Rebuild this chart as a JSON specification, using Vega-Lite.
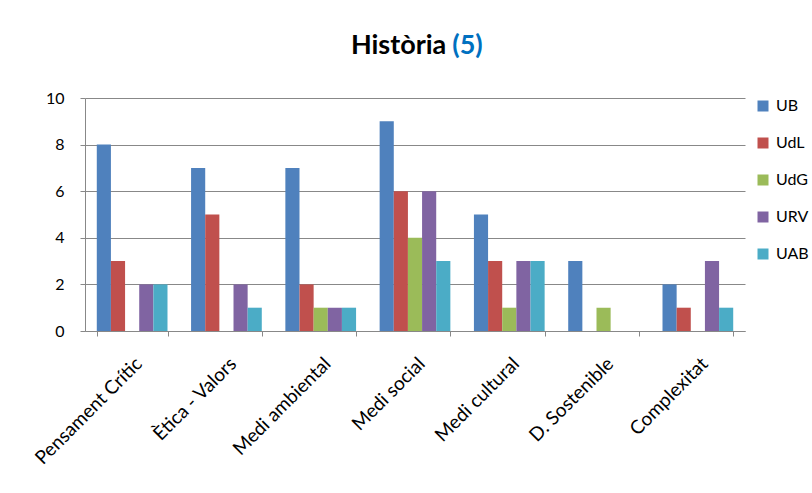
{
  "$schema": "https://vega.github.io/schema/vega-lite/v6.json",
  "width": 660,
  "height": 233,
  "autosize": {"type": "none"},
  "padding": {"left": 85, "top": 98, "right": 67, "bottom": 162},
  "background": "white",
  "title": {
    "text": "Història\u00a0\u00a0\u00a0\u00a0\u00a0\u200b",
    "subtitle": "\u200b\u00a0\u00a0\u00a0\u00a0\u00a0\u00a0\u00a0\u00a0\u00a0\u00a0\u00a0\u00a0\u00a0\u00a0\u00a0\u00a0(5)",
    "anchor": "middle",
    "frame": "group",
    "font": "Lato",
    "fontSize": 27,
    "fontWeight": "bold",
    "color": "black",
    "subtitleFont": "Lato",
    "subtitleFontSize": 27,
    "subtitleFontWeight": "bold",
    "subtitleColor": "#0070C0",
    "subtitlePadding": -27,
    "offset": 30
  },
  "data": {
    "values": [
      {"cat": "Pensament Crític", "uni": "UB", "v": 8},
      {"cat": "Pensament Crític", "uni": "UdL", "v": 3},
      {"cat": "Pensament Crític", "uni": "UdG", "v": 0},
      {"cat": "Pensament Crític", "uni": "URV", "v": 2},
      {"cat": "Pensament Crític", "uni": "UAB", "v": 2},
      {"cat": "Ètica - Valors", "uni": "UB", "v": 7},
      {"cat": "Ètica - Valors", "uni": "UdL", "v": 5},
      {"cat": "Ètica - Valors", "uni": "UdG", "v": 0},
      {"cat": "Ètica - Valors", "uni": "URV", "v": 2},
      {"cat": "Ètica - Valors", "uni": "UAB", "v": 1},
      {"cat": "Medi ambiental", "uni": "UB", "v": 7},
      {"cat": "Medi ambiental", "uni": "UdL", "v": 2},
      {"cat": "Medi ambiental", "uni": "UdG", "v": 1},
      {"cat": "Medi ambiental", "uni": "URV", "v": 1},
      {"cat": "Medi ambiental", "uni": "UAB", "v": 1},
      {"cat": "Medi social", "uni": "UB", "v": 9},
      {"cat": "Medi social", "uni": "UdL", "v": 6},
      {"cat": "Medi social", "uni": "UdG", "v": 4},
      {"cat": "Medi social", "uni": "URV", "v": 6},
      {"cat": "Medi social", "uni": "UAB", "v": 3},
      {"cat": "Medi cultural", "uni": "UB", "v": 5},
      {"cat": "Medi cultural", "uni": "UdL", "v": 3},
      {"cat": "Medi cultural", "uni": "UdG", "v": 1},
      {"cat": "Medi cultural", "uni": "URV", "v": 3},
      {"cat": "Medi cultural", "uni": "UAB", "v": 3},
      {"cat": "D. Sostenible", "uni": "UB", "v": 3},
      {"cat": "D. Sostenible", "uni": "UdL", "v": 0},
      {"cat": "D. Sostenible", "uni": "UdG", "v": 1},
      {"cat": "D. Sostenible", "uni": "URV", "v": 0},
      {"cat": "D. Sostenible", "uni": "UAB", "v": 0},
      {"cat": "Complexitat", "uni": "UB", "v": 2},
      {"cat": "Complexitat", "uni": "UdL", "v": 1},
      {"cat": "Complexitat", "uni": "UdG", "v": 0},
      {"cat": "Complexitat", "uni": "URV", "v": 3},
      {"cat": "Complexitat", "uni": "UAB", "v": 1}
    ]
  },
  "mark": {"type": "bar"},
  "encoding": {
    "x": {
      "field": "cat",
      "type": "nominal",
      "sort": null,
      "scale": {"paddingInner": 0.25, "paddingOuter": 0.125},
      "axis": {
        "title": null,
        "labelAngle": -45,
        "labelFont": "Lato",
        "labelFontSize": 19,
        "labelColor": "black",
        "labelPadding": 18,
        "labelDx": -21,
        "tickBand": "extent",
        "tickSize": 5,
        "tickColor": "#888",
        "domainColor": "#888",
        "labelLimit": 0
      }
    },
    "xOffset": {"field": "uni", "type": "nominal", "sort": ["UB", "UdL", "UdG", "URV", "UAB"]},
    "y": {
      "field": "v",
      "type": "quantitative",
      "scale": {"domain": [0, 10]},
      "axis": {
        "title": null,
        "values": [0, 2, 4, 6, 8, 10],
        "labelFont": "Lato",
        "labelFontSize": 16,
        "labelColor": "black",
        "labelPadding": 16,
        "tickSize": 5,
        "tickColor": "#888",
        "domainColor": "#888",
        "gridColor": "#888",
        "grid": true
      }
    },
    "color": {
      "field": "uni",
      "type": "nominal",
      "sort": ["UB", "UdL", "UdG", "URV", "UAB"],
      "scale": {
        "domain": ["UB", "UdL", "UdG", "URV", "UAB"],
        "range": ["#4F81BD", "#C0504D", "#9BBB59", "#8064A2", "#4BACC6"]
      },
      "legend": {
        "title": null,
        "orient": "right",
        "offset": 10,
        "symbolType": "square",
        "symbolSize": 121,
        "symbolStrokeWidth": 0,
        "labelFont": "Lato",
        "labelFontSize": 16,
        "labelColor": "black",
        "rowPadding": 21,
        "labelOffset": 5
      }
    }
  },
  "config": {
    "view": {"stroke": null}
  }
}
